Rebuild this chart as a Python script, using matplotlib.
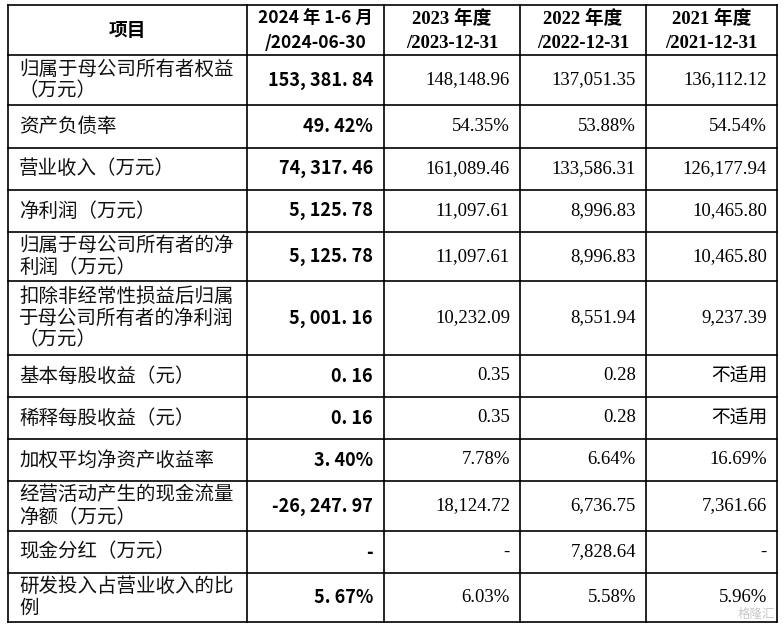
import matplotlib
matplotlib.use("Agg")
import matplotlib.pyplot as plt

# ---------------- data ----------------
header_item = "项目"
period_line1 = ["2024 年 1-6 月", "2023 年度", "2022 年度", "2021 年度"]
period_line2 = ["/2024-06-30", "/2023-12-31", "/2022-12-31", "/2021-12-31"]

items = [
    ["归属于母公司所有者权益", "（万元）"],
    ["资产负债率"],
    ["营业收入（万元）"],
    ["净利润（万元）"],
    ["归属于母公司所有者的净", "利润（万元）"],
    ["扣除非经常性损益后归属", "于母公司所有者的净利润", "（万元）"],
    ["基本每股收益（元）"],
    ["稀释每股收益（元）"],
    ["加权平均净资产收益率"],
    ["经营活动产生的现金流量", "净额（万元）"],
    ["现金分红（万元）"],
    ["研发投入占营业收入的比", "例"],
]

h1_2024 = ["153, 381. 84", "49. 42%", "74, 317. 46", "5, 125. 78", "5, 125. 78",
           "5, 001. 16", "0. 16", "0. 16", "3. 40%", "-26, 247. 97", "-", "5. 67%"]
fy_2023 = ["148,148.96", "54.35%", "161,089.46", "11,097.61", "11,097.61",
           "10,232.09", "0.35", "0.35", "7.78%", "18,124.72", "-", "6.03%"]
fy_2022 = ["137,051.35", "53.88%", "133,586.31", "8,996.83", "8,996.83",
           "8,551.94", "0.28", "0.28", "6.64%", "6,736.75", "7,828.64", "5.58%"]
fy_2021 = ["136,112.12", "54.54%", "126,177.94", "10,465.80", "10,465.80",
           "9,237.39", "不适用", "不适用", "16.69%", "7,361.66", "-", "5.96%"]

# ---------------- layout (pixels) ----------------
W, H = 784, 627
col_x = [8, 247, 384, 520, 646, 777]
row_y = [5, 55, 105, 148, 190, 232, 281, 355, 397, 439, 481, 531, 573, 622]

fig = plt.figure(figsize=(W / 100, H / 100), dpi=100)
ax = fig.add_axes([0, 0, 1, 1])
ax.set_xlim(0, W)
ax.set_ylim(H, 0)
ax.axis("off")
fig.patch.set_facecolor("white")

lw = 1.2
for x in col_x:
    ax.plot([x, x], [row_y[0], row_y[-1]], color="black", lw=lw, solid_capstyle="projecting")
for y in row_y:
    ax.plot([col_x[0], col_x[-1]], [y, y], color="black", lw=lw, solid_capstyle="projecting")

cjk = ["Noto Sans CJK SC", "DejaVu Sans"]
serif = ["Liberation Serif", "Noto Sans CJK SC"]

# header
ax.text((col_x[0] + col_x[1]) / 2, (row_y[0] + row_y[1]) / 2 + 1, header_item,
        family=cjk, fontsize=13.5, fontweight="bold", ha="center", va="center", color="black")
for i in range(4):
    cx = (col_x[i + 1] + col_x[i + 2]) / 2
    fam = cjk if i == 0 else serif
    fs = 12.5 if i == 0 else 13.5
    ax.text(cx, 19, period_line1[i], family=fam, fontsize=fs, fontweight="bold",
            ha="center", va="center", color="black")
    ax.text(cx, 43, period_line2[i], family=fam, fontsize=fs, fontweight="bold",
            ha="center", va="center", color="black")

line_gap = 22
cols_other = [fy_2023, fy_2022, fy_2021]
for r, lines in enumerate(items):
    top, bot = row_y[r + 1], row_y[r + 2]
    cy = (top + bot) / 2
    n = len(lines)
    for k, s in enumerate(lines):
        y = cy + (k - (n - 1) / 2) * line_gap
        ax.text(19, y, s, family=cjk, fontsize=14, ha="left", va="center", color="#111111")
    ax.text(col_x[2] - 11, cy, h1_2024[r], family=cjk, fontsize=13, fontweight="bold",
            ha="right", va="center", color="black")
    for j, vals in enumerate(cols_other):
        ax.text(col_x[3 + j] - 10, cy, vals[r], family=serif, fontsize=13.5,
                ha="right", va="center", color="black")

# watermark
ax.text(775, 614, "格隆汇", family=cjk, fontsize=9, ha="right", va="center",
        color="#bbbbbb", alpha=0.8)

fig.savefig("out.png", dpi=100, facecolor="white")
